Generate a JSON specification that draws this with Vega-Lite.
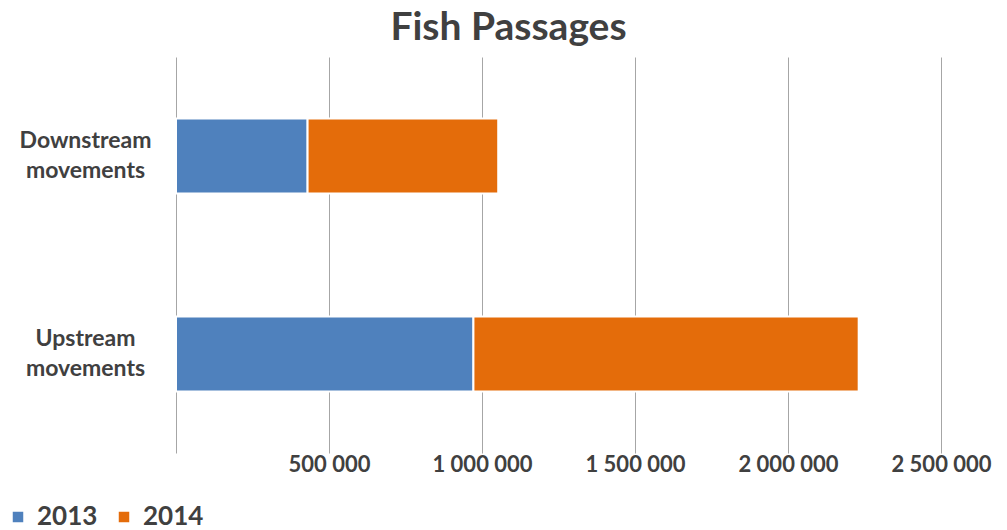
{
  "$schema": "https://vega.github.io/schema/vega-lite/v6.json",
  "autosize": "none",
  "width": 765,
  "height": 396,
  "padding": {"left": 176, "top": 57, "right": 66, "bottom": 77},
  "background": "white",
  "title": {
    "text": "Fish Passages",
    "anchor": "middle",
    "frame": "group",
    "dx": -50,
    "offset": 9,
    "font": "Lato",
    "fontSize": 39,
    "fontWeight": "bold",
    "color": "#404040"
  },
  "data": {
    "values": [
      {"movement": "Downstream movements", "year": "2013", "fish": 430000},
      {"movement": "Downstream movements", "year": "2014", "fish": 623000},
      {"movement": "Upstream movements", "year": "2013", "fish": 972000},
      {"movement": "Upstream movements", "year": "2014", "fish": 1259000}
    ]
  },
  "mark": {"type": "bar", "stroke": "white", "strokeWidth": 2},
  "encoding": {
    "y": {
      "field": "movement",
      "type": "nominal",
      "sort": ["Downstream movements", "Upstream movements"],
      "scale": {"paddingInner": 0.62, "paddingOuter": 0.31},
      "axis": {
        "title": null,
        "domain": false,
        "ticks": false,
        "labelExpr": "split(datum.label, ' ')",
        "labelAlign": "center",
        "labelBaseline": "middle",
        "labelPadding": 91,
        "labelOffset": -15,
        "labelLineHeight": 30,
        "labelFont": "Lato",
        "labelFontSize": 23,
        "labelFontWeight": "bold",
        "labelColor": "#404040"
      }
    },
    "x": {
      "field": "fish",
      "type": "quantitative",
      "stack": "zero",
      "scale": {"domain": [0, 2500000], "nice": false},
      "axis": {
        "title": null,
        "values": [0, 500000, 1000000, 1500000, 2000000, 2500000],
        "domain": false,
        "ticks": false,
        "grid": true,
        "gridColor": "#a6a6a6",
        "gridWidth": 1,
        "labelFlush": false,
        "labelOverlap": false,
        "labelBound": false,
        "labelExpr": "datum.value == 0 ? '' : replace(format(datum.value, ',d'), regexp(',', 'g'), ' ')",
        "labelPadding": 1,
        "labelFont": "Lato",
        "labelFontSize": 22,
        "labelFontWeight": "bold",
        "labelColor": "#404040"
      }
    },
    "color": {
      "field": "year",
      "type": "nominal",
      "scale": {"domain": ["2013", "2014"], "range": ["#4F81BD", "#E46C0A"]},
      "legend": {
        "title": null,
        "orient": "none",
        "direction": "horizontal",
        "legendX": -171,
        "legendY": 447,
        "symbolType": "square",
        "symbolSize": 110,
        "symbolStrokeWidth": 0,
        "labelFont": "Lato",
        "labelFontSize": 26,
        "labelFontWeight": "bold",
        "labelColor": "#404040",
        "labelOffset": 6,
        "columnPadding": 13
      }
    }
  },
  "config": {"view": {"stroke": null}}
}
